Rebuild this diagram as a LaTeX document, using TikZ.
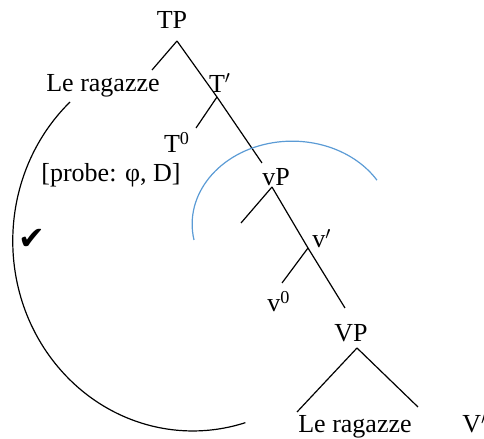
\documentclass[tikz,border=0pt]{standalone}
\usepackage{fontspec}
\setmainfont{Liberation Serif}
\newfontfamily\symfont{DejaVu Sans}
\usepackage{tikz}
\definecolor{cProbe}{HTML}{5B9BD5}

\begin{document}
\begin{tikzpicture}[
  x=0.5pt, y=-0.5pt,
  font=\fontsize{13}{15}\selectfont,
  lbl/.style   ={inner sep=0pt, anchor=base},
  branch/.style={draw=black, line width=0.6pt},
  agree/.style ={draw=black, line width=0.6pt},
  probearc/.style={draw=cProbe, line width=0.6pt},
]
\useasboundingbox (0,0) rectangle (484,439);

% ---------------------------------------------------------------- labels
\node[lbl] (tp)       at (172,28)  {TP};
\node[lbl] (subjtop)  at (103,91)  {Le ragazze};
\node[lbl] (tbar)     at (220,92)  {T$'$};
\node[lbl] (tzero)    at (177,153) {T\textsuperscript{0}};
\node[lbl] (probe)    at (111,182) {[probe: φ, D]};
\node[lbl] (vsmall)   at (276,185) {vP};
\node[lbl] (vbar)     at (322,248) {v$'$};
\node[lbl] (vzero)    at (279,312) {v\textsuperscript{0}};
\node[lbl] (vbig)     at (351,342) {VP};
\node[lbl] (subjlow)  at (355,433) {Le ragazze};
\node[lbl, anchor=base west] (vbarbig) at (462,433) {V$'$};
\node[inner sep=0pt] (tick) at (32,239) {\symfont\fontsize{16}{18}\selectfont ✔};

% ---------------------------------------------------------------- branch points
\coordinate (tp-b)   at (177,41);
\coordinate (spec-t) at (152,70);
\coordinate (tbar-b) at (217,97);
\coordinate (tz-t)   at (196,128);
\coordinate (vp-t)   at (262,163);
\coordinate (vp-b)   at (272,187);
\coordinate (spec-v) at (241,223);
\coordinate (vbar-b) at (308,248);
\coordinate (vz-t)   at (282,283);
\coordinate (vpc-t)  at (345,308);
\coordinate (VP-b)   at (357,348);
\coordinate (sl-t)   at (297,412);
\coordinate (vb-t)   at (418,407);
\coordinate (agree-s) at (70,102);
\coordinate (probe-s) at (194,240);

% ---------------------------------------------------------------- tree
\draw[branch] (tp-b)   -- (spec-t);
\draw[branch] (tp-b)   -- (tbar-b) -- (vp-t);
\draw[branch] (tbar-b) -- (tz-t);
\draw[branch] (vp-b)   -- (spec-v);
\draw[branch] (vp-b)   -- (vbar-b) -- (vpc-t);
\draw[branch] (vbar-b) -- (vz-t);
\draw[branch] (VP-b)   -- (sl-t);
\draw[branch] (VP-b)   -- (vb-t);

% ---------------------------------------------------------------- arcs
\draw[agree] (agree-s) arc[start angle=227, end angle=73, x radius=180, y radius=190];
\draw[probearc] (probe-s) arc[start angle=169, end angle=328, x radius=100, y radius=83];

\end{tikzpicture}
\end{document}
